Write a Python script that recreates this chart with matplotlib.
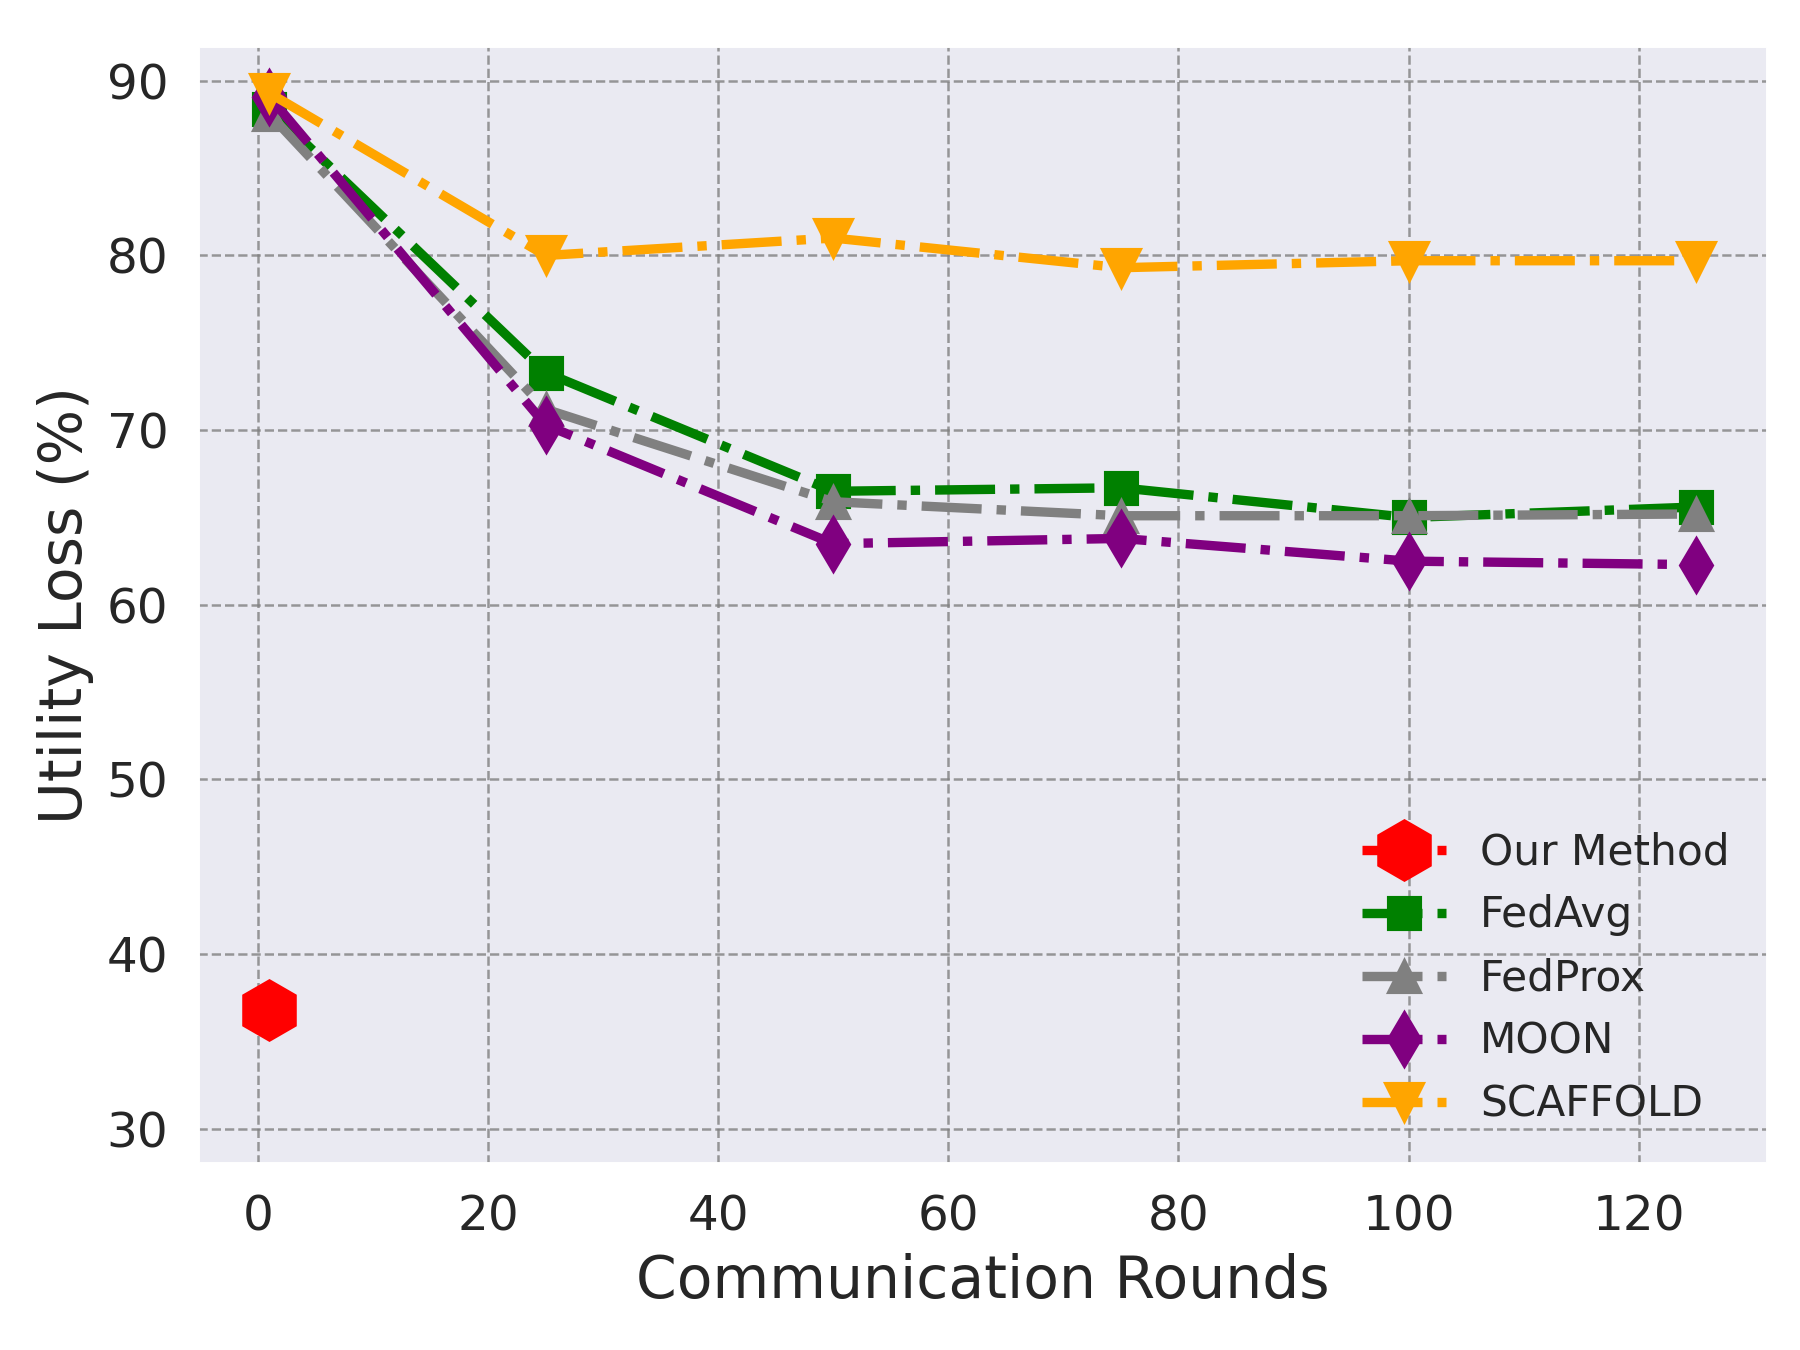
import numpy as np
import matplotlib
matplotlib.use("Agg")
import matplotlib.pyplot as plt
import seaborn as sns

sns.set_theme(style="darkgrid")
plt.rcParams['font.family'] = ['DejaVu Sans']

# --- Data ---
rounds = [1, 25, 50, 75, 100, 125]
ours_round = [1]
ours_loss = [36.8]
fedavg = [88.4, 73.3, 66.5, 66.7, 65.0, 65.6]
fedprox = [88.1, 71.2, 65.9, 65.1, 65.1, 65.2]
moon = [89.1, 70.3, 63.5, 63.8, 62.5, 62.3]
scaffold = [89.3, 80.0, 81.0, 79.3, 79.7, 79.7]

fig, ax = plt.subplots(figsize=(8, 6), dpi=225)
fig.subplots_adjust(left=0.11, right=0.982, top=0.966, bottom=0.138)

lw = 3.0
ms = 10
ax.plot(ours_round, ours_loss, color='red', marker='h', markersize=19,
        linestyle='-.', linewidth=lw, label='Our Method')
ax.plot(rounds, fedavg, color='green', marker='s', markersize=ms,
        linestyle='-.', linewidth=lw, label='FedAvg')
ax.plot(rounds, fedprox, color='gray', marker='^', markersize=ms,
        linestyle='-.', linewidth=lw, label='FedProx')
ax.plot(rounds, moon, color='purple', marker='d', markersize=ms + 2,
        linestyle='-.', linewidth=lw, label='MOON')
ax.plot(rounds, scaffold, color='orange', marker='v', markersize=ms + 2,
        linestyle='-.', linewidth=lw, label='SCAFFOLD')

# --- Plot settings ---
ax.set_ylim(28, 92)
ax.set_xlabel("Communication Rounds", fontsize=18.7)
ax.set_ylabel("Utility Loss (%)", fontsize=18.7)
ax.tick_params(axis='both', labelsize=15.5)
ax.grid(True, linestyle='--', color='gray', alpha=0.8, linewidth=0.8)
ax.legend(loc='lower right', fontsize=13.5, frameon=False)

fig.savefig("out.png", dpi=225)
